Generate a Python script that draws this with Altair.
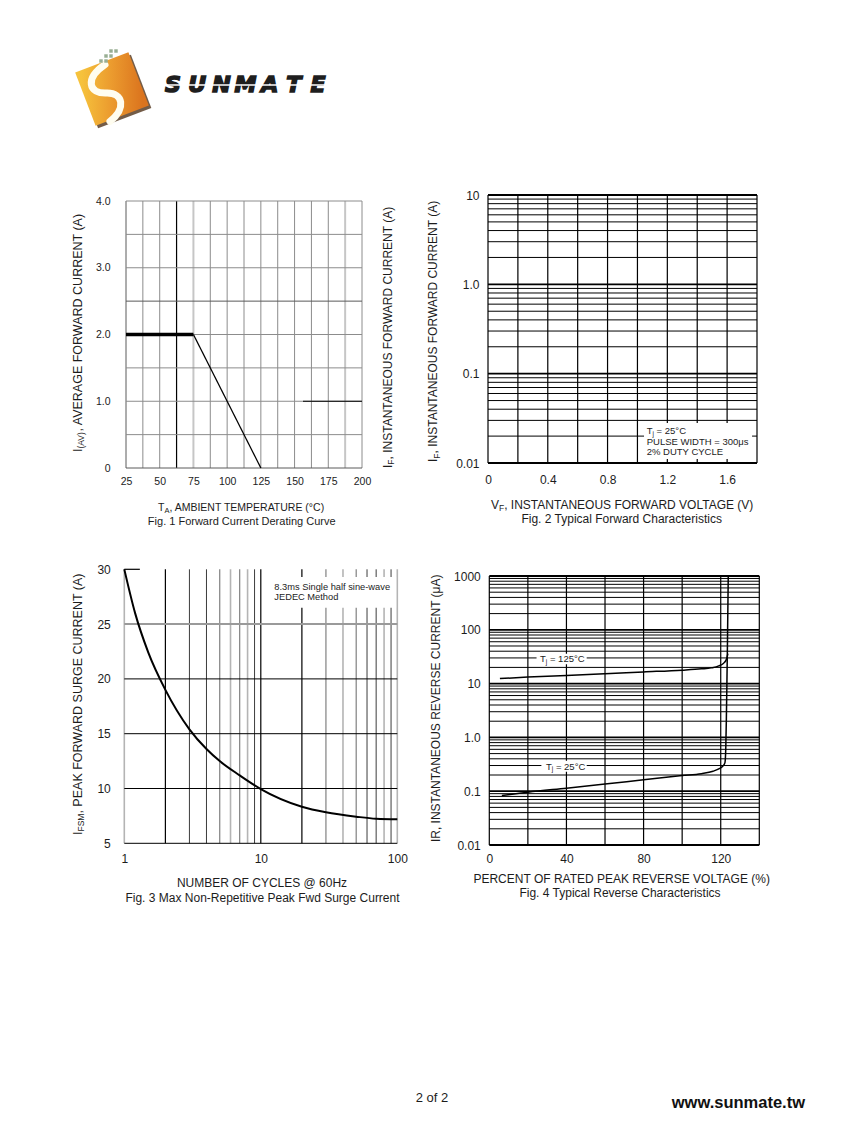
import altair as alt
import pandas as pd

W, H = 831, 1123
MARGIN = 8
FONT = "Liberation Sans"
INK = "#1c1c1c"


def px(v):
    return v - MARGIN


# ======================= DATA =======================
# Fig. 1  Forward Current Derating Curve
F1_FLAT_TEMP = [25, 75]
F1_FLAT_CURRENT = [2.0, 2.0]
F1_SLOPE_TEMP = [75, 125]
F1_SLOPE_CURRENT = [2.0, 0.0]
F1_X_TICKS = [25, 50, 75, 100, 125, 150, 175, 200]
F1_Y_TICKS = [0, 1, 2, 3, 4]
F1_VGRID_GREY = [37.5, 50, 87.5, 100, 112.5, 125, 137.5, 150, 162.5, 175, 200]
F1_VGRID_LIGHT = [75, 187.5]
F1_VGRID_DARK = [25]
F1_VGRID_BLACK = [62.5]
F1_HGRID_GREY = [0.5, 1.0, 1.5, 2.0, 3.0, 3.5, 4.0]
F1_HGRID_DARK = [0, 2.5]
F1_HSEG_BLACK = [1.0]

# Fig. 2  Typical Forward Characteristics (grid only)
F2_X_TICKS = [0, 0.4, 0.8, 1.2, 1.6]
F2_Y_TICKS = [0.01, 0.1, 1, 10]
F2_VGRID = [0, 0.2, 0.4, 0.6, 0.8, 1.0, 1.2, 1.4, 1.6, 1.8]
F2_HGRID_DECADE = [0.01, 0.1, 1, 10]
F2_HGRID_MINOR = [0.02, 0.03, 0.04, 0.05, 0.06, 0.07, 0.08, 0.09,
                  0.2, 0.3, 0.4, 0.5, 0.6, 0.7, 0.8, 0.9,
                  2, 3, 4, 5, 6, 7, 8, 9]
F2_NOTE_LINES = ["PULSE WIDTH = 300μs", "2% DUTY CYCLE"]

# Fig. 3  Max Non-Repetitive Peak Fwd Surge Current
F3_CYCLES = [1, 1.2, 1.5, 2, 3, 4, 5, 7, 10, 20, 30, 50, 70, 100]
F3_IFSM = [30, 26.0, 22.4, 19.0, 15.4, 13.6, 12.5, 11.2, 9.95, 8.34, 7.83, 7.43,
           7.24, 7.19]
F3_X_TICKS = [1, 10, 100]
F3_Y_TICKS = [5, 10, 15, 20, 25, 30]
F3_VGRID_BLACK = [2, 10, 20]
F3_VGRID_DARK = [3, 4, 9, 60, 70, 90]
F3_VGRID_MID = [5, 7, 30, 50]
F3_VGRID_LIGHT = [1, 6, 8, 40, 80, 100]
F3_HGRID_BLACK = [5, 10, 15, 20]
F3_HGRID_GREY = [25]
F3_HSEG_TOP = [30]
F3_NOTE_LINES = ["8.3ms Single half sine-wave", "JEDEC Method"]

# Fig. 4  Typical Reverse Characteristics
F4_VOLT_25 = [6.5, 20, 40, 60, 80, 100, 110, 116, 119, 121, 122.2, 122.6, 122.9,
              123.2, 123.5, 123.9]
F4_IR_25 = [0.083, 0.096, 0.114, 0.136, 0.163, 0.195, 0.212, 0.235, 0.26, 0.29,
            0.34, 0.6, 2, 10, 60, 1000]
F4_VOLT_125 = [5.5, 20, 40, 60, 80, 100, 110, 115, 119, 121.5, 123, 123.7]
F4_IR_125 = [12.4, 13.2, 14.2, 15.3, 16.5, 17.8, 18.8, 19.6, 21.3, 24, 28.5, 36]
F4_X_TICKS = [0, 40, 80, 120]
F4_Y_TICKS = [0.01, 0.1, 1, 10, 100, 1000]
F4_VGRID = [0, 20, 40, 60, 80, 100, 120, 140]
F4_HGRID_DECADE = [0.01, 0.1, 1, 10, 100, 1000]
F4_HGRID_MINOR = [0.02, 0.03, 0.04, 0.05, 0.06, 0.07, 0.08, 0.09,
                  0.2, 0.3, 0.4, 0.5, 0.6, 0.7, 0.8, 0.9,
                  2, 3, 4, 5, 6, 7, 8, 9,
                  20, 30, 40, 50, 60, 70, 80, 90,
                  200, 300, 400, 500, 600, 700, 800, 900]
F4_CURVE_TEMPS = ["125°C", "25°C"]

LOGO_LETTERS = ["S", "U", "N", "M", "A", "T", "E"]

# ======================= HELPERS =======================
ADV = {"I": .278, "T": .611, "V": .667, "(": .333, ")": .333, "A": .667,
       "F": .611, "S": .667, "M": .833, "j": .222, " ": .278}


def adv(s, size):
    return sum(ADV[c] for c in s) * size


def lin(domain, r0, r1):
    return alt.Scale(type="linear", domain=domain, range=[px(r0), px(r1)],
                     nice=False, zero=False)


def logs(domain, r0, r1):
    return alt.Scale(type="log", domain=domain, range=[px(r0), px(r1)], nice=False)


def x_axis(values, bottom, pad, size, expr):
    return alt.Axis(values=values, orient="bottom", offset=px(bottom) - H,
                    domain=False, ticks=False, tickSize=0, grid=False,
                    labelPadding=pad, labelFontSize=size, labelFont=FONT,
                    labelColor=INK, labelBaseline="middle", labelAlign="center",
                    labelExpr=expr, labelFlush=False, labelOverlap=False, title=None)


def y_axis(values, left, pad, size, expr):
    return alt.Axis(values=values, orient="left", offset=-px(left),
                    domain=False, ticks=False, tickSize=0, grid=False,
                    labelPadding=pad, labelFontSize=size, labelFont=FONT,
                    labelColor=INK, labelBaseline="middle", labelAlign="right",
                    labelExpr=expr, labelFlush=False, labelOverlap=False, title=None)


def vrules(xs, ylo, yhi, sx, sy, color, width, axis=None):
    df = pd.DataFrame({"x": xs, "y0": [ylo] * len(xs), "y1": [yhi] * len(xs)})
    return alt.Chart(df).mark_rule(color=color, strokeWidth=width).encode(
        x=alt.X("x:Q", scale=sx, axis=axis),
        y=alt.Y("y0:Q", scale=sy, axis=None),
        y2="y1:Q",
    )


def hrules(ys, xlo, xhi, sx, sy, color, width, axis=None):
    df = pd.DataFrame({"y": ys, "x0": [xlo] * len(ys), "x1": [xhi] * len(ys)})
    return alt.Chart(df).mark_rule(color=color, strokeWidth=width).encode(
        y=alt.Y("y:Q", scale=sy, axis=axis),
        x=alt.X("x0:Q", scale=sx, axis=None),
        x2="x1:Q",
    )


def curve(xs, ys, sx, sy, width, interp="linear"):
    df = pd.DataFrame({"x": xs, "y": ys, "o": list(range(len(xs)))})
    return alt.Chart(df).mark_line(color="#000", strokeWidth=width,
                                   interpolate=interp).encode(
        x=alt.X("x:Q", scale=sx, axis=None),
        y=alt.Y("y:Q", scale=sy, axis=None),
        order=alt.Order("o:Q"),
    )


def box(x0, x1, y0, y1, sx, sy):
    df = pd.DataFrame({"x0": [x0], "x1": [x1], "y0": [y0], "y1": [y1]})
    return alt.Chart(df).mark_rect(color="white").encode(
        x=alt.X("x0:Q", scale=sx, axis=None), x2="x1:Q",
        y=alt.Y("y0:Q", scale=sy, axis=None), y2="y1:Q",
    )


def dtext(x, y, s, sx, sy, size, dx=0, dy=0):
    df = pd.DataFrame({"x": [x], "y": [y], "t": [s]})
    return alt.Chart(df).mark_text(align="left", baseline="middle", fontSize=size,
                                   font=FONT, color=INK, dx=dx, dy=dy).encode(
        x=alt.X("x:Q", scale=sx, axis=None),
        y=alt.Y("y:Q", scale=sy, axis=None),
        text="t:N",
    )


def ptext(x, y, s, size, align="left", baseline="alphabetic", angle=0,
          weight="normal", color=INK, font=FONT):
    kw = dict(align=align, baseline=baseline, fontSize=size, font=font,
              fontWeight=weight, color=color)
    if angle:
        kw["angle"] = angle
    return alt.Chart(pd.DataFrame({"t": [s]})).mark_text(**kw).encode(
        x=alt.value(px(x)), y=alt.value(px(y)), text="t:N")


def tj_label(x, y, temp, sx, sy):
    """'T' + subscript 'j' + ' = temp' anchored at a data position."""
    a = adv("T", 9.5)
    b = a + adv("j", 6.5) + adv(" ", 9.5)
    return [
        dtext(x, y, "T", sx, sy, 9.5),
        dtext(x, y, "j", sx, sy, 6.5, dx=a, dy=2.5),
        dtext(x, y, "= " + temp, sx, sy, 9.5, dx=b),
    ]


layers = []

# ======================= LOGO =======================
dummy = pd.DataFrame({"k": [0]})
grad = alt.LinearGradient(
    gradient="linear",
    stops=[alt.GradientStop(color="#F6C23C", offset=0),
           alt.GradientStop(color="#EB9A2E", offset=0.5),
           alt.GradientStop(color="#DB741E", offset=1)],
    x1=0, y1=0.3, x2=1, y2=0.7)
layers.append(alt.Chart(dummy).mark_point(
    shape="square", filled=True, size=3250, angle=339, color="#5a4028",
    opacity=0.85, strokeWidth=0).encode(x=alt.value(px(114.5)), y=alt.value(px(91.5))))
layers.append(alt.Chart(dummy).mark_point(
    shape="square", filled=True, size=3250, angle=339, fill=grad, opacity=1,
    strokeWidth=0).encode(x=alt.value(px(112)), y=alt.value(px(89))))
layers.append(alt.Chart(dummy).mark_point(
    shape="M 0.1 -0.95 C -0.75 -0.75 -0.8 -0.2 -0.2 0.0 C 0.35 0.2 0.25 0.75 -0.45 0.97",
    filled=False, size=3250, angle=339, color="#fffdf0", strokeWidth=7,
    strokeCap="round", opacity=1).encode(x=alt.value(px(112)), y=alt.value(px(91))))
for (dx_, dy_) in [(111, 51), (116, 51), (106, 56), (111, 56), (101, 61), (106, 61)]:
    layers.append(alt.Chart(dummy).mark_square(size=12, color="#98ae93", opacity=1)
                  .encode(x=alt.value(px(dx_)), y=alt.value(px(dy_))))
letters_df = pd.DataFrame({"i": list(range(len(LOGO_LETTERS))), "ch": LOGO_LETTERS})
letter_scale = alt.Scale(domain=[0, 6], range=[px(173), px(318)], nice=False, zero=False)
layers.append(alt.Chart(letters_df).mark_text(
    font="DejaVu Sans", fontSize=22, fontWeight="bold", fontStyle="italic",
    baseline="alphabetic", align="center", color="#1e1e1e", stroke="#1e1e1e",
    strokeWidth=1.6).encode(
    x=alt.X("i:Q", scale=letter_scale, axis=None),
    y=alt.value(px(92)), text="ch:N"))
layers.append(alt.Chart(dummy).mark_rule(color="white", strokeWidth=1.5).encode(
    x=alt.value(px(158)), x2=alt.value(px(336)), y=alt.value(px(85))))

# ======================= FIG 1 =======================
s1x = lin([25, 200], 126, 362)
s1y = lin([0, 4], 468, 201)
layers += [
    vrules(F1_VGRID_GREY, 0, 4, s1x, s1y, "#8c8c8c", 1,
           axis=x_axis(F1_X_TICKS, 468, 13, 10.5, "datum.label")),
    vrules(F1_VGRID_LIGHT, 0, 4, s1x, s1y, "#c6c6c6", 2),
    vrules(F1_VGRID_DARK, 0, 4, s1x, s1y, "#5a5a5a", 1),
    vrules(F1_VGRID_BLACK, 0, 4, s1x, s1y, "#000000", 1.2),
    hrules(F1_HGRID_GREY, 25, 200, s1x, s1y, "#8c8c8c", 1,
           axis=y_axis(F1_Y_TICKS, 126, 16, 10.5,
                       "datum.value == 0 ? '0' : format(datum.value, '.1f')")),
    hrules(F1_HGRID_DARK, 25, 200, s1x, s1y, "#5a5a5a", 1),
    hrules(F1_HSEG_BLACK, 156.25, 200, s1x, s1y, "#000000", 1.2),
    curve(F1_FLAT_TEMP, F1_FLAT_CURRENT, s1x, s1y, 3.6),
    curve(F1_SLOPE_TEMP, F1_SLOPE_CURRENT, s1x, s1y, 1.3),
]
layers += [
    ptext(81.5, 452, "I", 12.5, angle=270),
    ptext(84.3, 452 - adv("I", 12.5), "(AV)", 8.5, angle=270),
    ptext(81.5, 452 - adv("I", 12.5) - adv("(AV)", 8.5),
          ", AVERAGE FORWARD CURRENT (A)", 12.5, angle=270),
]
layers += [
    ptext(158, 510.5, "T", 10.5),
    ptext(158 + adv("T", 10.5), 513, "A", 7.5),
    ptext(158 + adv("T", 10.5) + adv("A", 7.5), 510.5,
          ", AMBIENT TEMPERATURE (°C)", 10.5),
    ptext(241.7, 521.7, "Fig. 1  Forward Current Derating Curve", 11,
          align="center", baseline="middle"),
]

# ======================= FIG 2 =======================
s2x = lin([0, 1.8], 488, 757)
s2y = logs([0.01, 10], 463, 195)
layers += [
    vrules(F2_VGRID, 0.01, 10, s2x, s2y, "#000000", 1.2,
           axis=x_axis(F2_X_TICKS, 463, 16, 12, "'' + datum.value")),
    hrules(F2_HGRID_MINOR, 0, 1.8, s2x, s2y, "#000000", 1,
           axis=y_axis(F2_Y_TICKS, 488, 9, 12,
                       "datum.value == 1 ? '1.0' : '' + datum.value")),
    hrules(F2_HGRID_DECADE, 0, 1.8, s2x, s2y, "#000000", 1.8),
    box(1.044, 1.767, 0.0111, 0.028, s2x, s2y),
]
layers += tj_label(1.062, 0.0226, "25°C", s2x, s2y)
layers += [
    dtext(1.062, 0.01736, F2_NOTE_LINES[0], s2x, s2y, 9.5),
    dtext(1.062, 0.01331, F2_NOTE_LINES[1], s2x, s2y, 9.5),
]
for xb, y0 in [(391.5, 468), (437, 462)]:
    layers += [
        ptext(xb, y0, "I", 12, angle=270),
        ptext(xb + 2.7, y0 - adv("I", 12), "F", 8.5, angle=270),
        ptext(xb, y0 - adv("I", 12) - adv("F", 8.5),
              ", INSTANTANEOUS FORWARD CURRENT (A)", 12, angle=270),
    ]
layers += [
    ptext(491, 508.6, "V", 12),
    ptext(491 + adv("V", 12), 511.3, "F", 8.5),
    ptext(491 + adv("V", 12) + adv("F", 8.5), 508.6,
          ", INSTANTANEOUS FORWARD VOLTAGE (V)", 12),
    ptext(621.7, 519.3, "Fig. 2  Typical Forward Characteristics", 12,
          align="center", baseline="middle"),
]

# ======================= FIG 3 =======================
s3x = logs([1, 100], 124.3, 397.3)
s3y = lin([5, 30], 843.3, 569.3)
layers += [
    vrules(F3_VGRID_LIGHT, 5, 30, s3x, s3y, "#b4b4b4", 1.6,
           axis=x_axis(F3_X_TICKS, 843.3, 15, 12, "'' + datum.value")),
    vrules(F3_VGRID_MID, 5, 30, s3x, s3y, "#8a8a8a", 1.3),
    vrules(F3_VGRID_DARK, 5, 30, s3x, s3y, "#3c3c3c", 1),
    vrules(F3_VGRID_BLACK, 5, 30, s3x, s3y, "#000000", 1.2),
    hrules(F3_HGRID_BLACK, 1, 100, s3x, s3y, "#000000", 1,
           axis=y_axis(F3_Y_TICKS, 124.3, 14, 12, "datum.label")),
    hrules(F3_HGRID_GREY, 1, 100, s3x, s3y, "#9a9a9a", 2),
    hrules(F3_HSEG_TOP, 1, 1.3, s3x, s3y, "#000000", 1.2),
    box(10.9, 98, 26.5, 29.3, s3x, s3y),
    dtext(12.56, 28.41, F3_NOTE_LINES[0], s3x, s3y, 9.3),
    dtext(12.56, 27.5, F3_NOTE_LINES[1], s3x, s3y, 9.3),
    curve(F3_CYCLES, F3_IFSM, s3x, s3y, 2, interp="monotone"),
]
layers += [
    ptext(81.5, 835, "I", 12.5, angle=270),
    ptext(84.3, 835 - adv("I", 12.5), "FSM", 8.5, angle=270),
    ptext(81.5, 835 - adv("I", 12.5) - adv("FSM", 8.5),
          ", PEAK FORWARD SURGE CURRENT (A)", 12.5, angle=270),
    ptext(262, 883.3, "NUMBER OF CYCLES @ 60Hz", 12, align="center", baseline="middle"),
    ptext(262.5, 897.7, "Fig. 3  Max Non-Repetitive Peak Fwd Surge Current", 12,
          align="center", baseline="middle"),
]

# ======================= FIG 4 =======================
s4x = lin([0, 140], 489.3, 759.3)
s4y = logs([0.01, 1000], 845, 576)
layers += [
    vrules(F4_VGRID, 0.01, 1000, s4x, s4y, "#000000", 1.2,
           axis=x_axis(F4_X_TICKS, 845, 13, 12, "datum.label")),
    hrules(F4_HGRID_MINOR, 0, 140, s4x, s4y, "#000000", 1,
           axis=y_axis(F4_Y_TICKS, 489.3, 9, 12,
                       "datum.value == 1 ? '1.0' : '' + datum.value")),
    hrules(F4_HGRID_DECADE, 0, 140, s4x, s4y, "#000000", 1.8),
    box(24.5, 50.5, 23, 36, s4x, s4y),
    box(27, 50.5, 0.23, 0.37, s4x, s4y),
]
layers += tj_label(26.3, 28.6, F4_CURVE_TEMPS[0], s4x, s4y)
layers += tj_label(29.4, 0.285, F4_CURVE_TEMPS[1], s4x, s4y)
layers += [
    curve(F4_VOLT_125, F4_IR_125, s4x, s4y, 1.5, interp="monotone"),
    curve(F4_VOLT_25, F4_IR_25, s4x, s4y, 1.5, interp="monotone"),
    ptext(440, 708.3, "IR, INSTANTANEOUS REVERSE CURRENT (μA)", 12, align="center",
          angle=270),
    ptext(621.7, 879.3, "PERCENT OF RATED PEAK REVERSE VOLTAGE (%)", 12,
          align="center", baseline="middle"),
    ptext(620, 893.3, "Fig. 4  Typical Reverse Characteristics", 12,
          align="center", baseline="middle"),
]

# ======================= FOOTER =======================
layers += [
    ptext(432, 1098, "2 of 2", 13, align="center", baseline="middle"),
    ptext(805, 1102.7, "www.sunmate.tw", 16.5, align="right", baseline="middle",
          weight="bold", color="#111111"),
]

chart = (
    alt.layer(*layers)
    .resolve_scale(x="independent", y="independent")
    .properties(width=W, height=H, padding=0,
                autosize=alt.AutoSizeParams(type="none"), background="white")
    .configure_view(stroke=None)
)

chart.save("out.html", embed_options={"renderer": "svg", "actions": False})
